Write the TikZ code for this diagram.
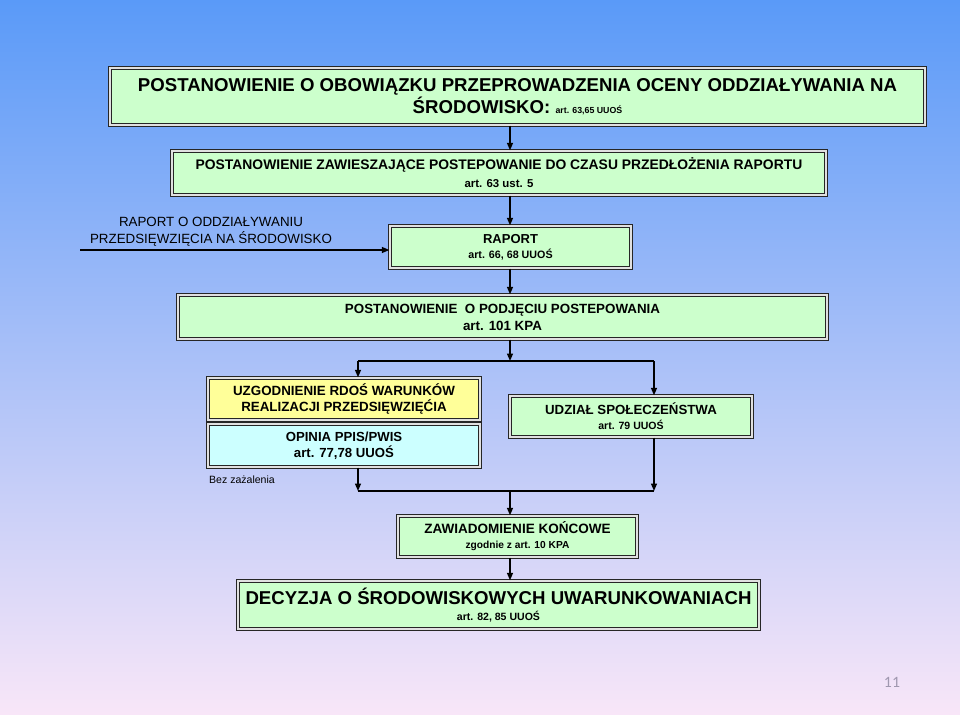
\documentclass[tikz,border=0pt]{standalone}
\usepackage{fontspec}
\setmainfont{Liberation Sans}
\newfontfamily\numfont{Carlito}
\usetikzlibrary{arrows.meta}
\definecolor{bgtop}{HTML}{5A9AF8}
\definecolor{bgmid}{HTML}{B2CCEE}
\definecolor{bgbot}{HTML}{F8E6F8}
\definecolor{boxgreen}{HTML}{CCFFCC}
\definecolor{boxyellow}{HTML}{FFFF99}
\definecolor{boxcyan}{HTML}{CCFFFF}
\definecolor{numgray}{HTML}{A098B0}
\newcommand{\fsz}[2]{\fontsize{#1}{#2}\selectfont}

\begin{document}
\begin{tikzpicture}[x=0.02cm,y=-0.02cm,
  box/.style={draw=black!85, line width=0.5pt, double=black!12, double distance=1pt,
    fill=boxgreen, align=center, inner sep=0pt},
  arr/.style={line width=0.8pt, -{Triangle[length=0.15cm,width=0.12cm]}},
  line/.style={line width=0.8pt}]
	\useasboundingbox (0,0) rectangle (960,714);
	\shade[top color=bgtop, middle color=bgmid, bottom color=bgbot] (0,0) rectangle (960,714);

	% boxes
	\node[box, font=\bfseries\fsz{10.6}{12.5}, minimum width=16.31cm, minimum height=1.15cm] (obowiazek) at (517.5,96.5)
		{POSTANOWIENIE O OBOWIĄZKU PRZEPROWADZENIA OCENY ODDZIAŁYWANIA NA\\
		 ŚRODOWISKO: {\fsz{5}{6}art. 63,65 UUOŚ}};
	\node[box, font=\bfseries\fsz{7.9}{10.2}, minimum width=13.09cm, minimum height=0.89cm] (zawieszenie) at (499,173)
		{POSTANOWIENIE ZAWIESZAJĄCE POSTEPOWANIE DO CZASU PRZEDŁOŻENIA RAPORTU\\
		 {\fsz{6.5}{8}art. 63 ust. 5}};
	\node[box, font=\bfseries\fsz{7.4}{8.5}, minimum width=4.83cm, minimum height=0.85cm] (raport) at (510.5,247)
		{RAPORT\\ {\fsz{6.1}{6.5}art. 66, 68 UUOŚ}};
	\node[box, font=\bfseries\fsz{7.6}{9.6}, minimum width=12.99cm, minimum height=0.89cm] (podjecie) at (502.5,317)
		{POSTANOWIENIE\ \ O PODJĘCIU POSTEPOWANIA\\ art. 101 KPA};
	\node[box, font=\bfseries\fsz{7.6}{9}, fill=boxyellow, minimum width=5.45cm, minimum height=0.85cm] (uzgodnienie) at (344,399)
		{UZGODNIENIE RDOŚ WARUNKÓW\\ REALIZACJI PRZEDSIĘWZIĘĆIA};
	\node[box, font=\bfseries\fsz{7.5}{9}, fill=boxcyan, minimum width=5.45cm, minimum height=0.87cm] (opinia) at (344,445.5)
		{OPINIA PPIS/PWIS\\ art. 77,78 UUOŚ};
	\node[box, font=\bfseries\fsz{7.55}{8.5}, minimum width=4.85cm, minimum height=0.83cm] (udzial) at (631,416.5)
		{UDZIAŁ SPOŁECZEŃSTWA\\ {\fsz{6}{6.5}art. 79 UUOŚ}};
	\node[box, font=\bfseries\fsz{7.7}{8.5}, minimum width=4.79cm, minimum height=0.83cm] (zawiadomienie) at (517.5,536.5)
		{ZAWIADOMIENIE KOŃCOWE\\ {\fsz{5.8}{6.5}zgodnie z art. 10 KPA}};
	\node[box, font=\bfseries\fsz{10.6}{9.6}, minimum width=10.43cm, minimum height=0.97cm] (decyzja) at (498.5,605)
		{DECYZJA O ŚRODOWISKOWYCH UWARUNKOWANIACH\\ {\fsz{6}{7}art. 82, 85 UUOŚ}};

	% free texts
	\node[align=center, font=\fsz{7.6}{9.6}] (opis) at (211,232)
		{RAPORT O ODDZIAŁYWANIU\\ PRZEDSIĘWZIĘCIA NA ŚRODOWISKO};
	\node[font=\fsz{6}{7}] (bez) at (242,480) {Bez zażalenia};
	\node[text=numgray, font=\numfont\fsz{9}{10}] (strona) at (892,682) {11};

	% connectors
	\coordinate (spine) at (510,0);
	\coordinate (lcol) at (358,0);
	\coordinate (rcol) at (654,0);
	\coordinate (split) at (510,361);
	\coordinate (join) at (510,491);
	\coordinate (wej) at (80,250);

	\draw[arr] (obowiazek.south -| spine) -- (zawieszenie.north -| spine);
	\draw[arr] (zawieszenie.south -| spine) -- (raport.north -| spine);
	\draw[arr] (wej) -- (wej -| raport.west);
	\draw[arr] (raport.south -| spine) -- (podjecie.north -| spine);
	\draw[arr] (podjecie.south -| spine) -- (split);
	\draw[line] (lcol |- split) -- (rcol |- split);
	\draw[arr] (lcol |- split) -- (uzgodnienie.north -| lcol);
	\draw[arr] (rcol |- split) -- (udzial.north -| rcol);
	\draw[arr] (opinia.south -| lcol) -- (lcol |- join);
	\draw[arr] (udzial.south -| rcol) -- (rcol |- join);
	\draw[line] (lcol |- join) -- (rcol |- join);
	\draw[arr] (join) -- (zawiadomienie.north -| spine);
	\draw[arr] (zawiadomienie.south -| spine) -- (decyzja.north -| spine);
\end{tikzpicture}
\end{document}
